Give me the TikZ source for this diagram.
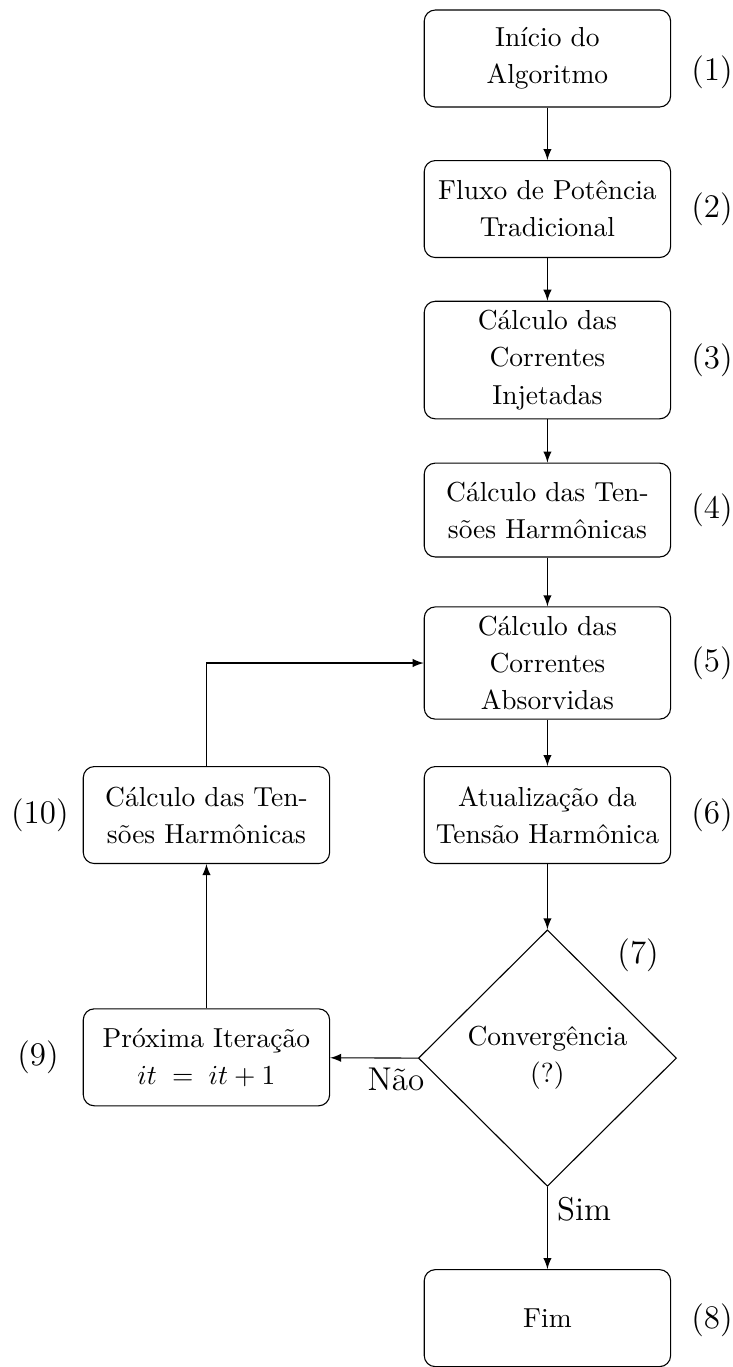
\documentclass[tikz,border=0pt]{standalone}
\usepackage{fontspec}
\usetikzlibrary{shapes.geometric}
\begin{document}
\begin{tikzpicture}[
  passo/.style={draw, rounded corners, align=center, font=\fontsize{10}{13.5}\selectfont, minimum width=3.15cm, minimum height=1.24cm},
  decisao/.style={draw, diamond, aspect=1, minimum width=3.3cm, minimum height=3.28cm, inner sep=0pt, align=center, font=\fontsize{10}{13.5}\selectfont},
  rotulo/.style={font=\large},
  seta/.style={-latex}
]
\useasboundingbox (0,0) rectangle (9.373,-17.48);
% coluna da direita
\node[passo] (inicio) at (7,-0.748) {Início do\\Algoritmo};
\node[passo] (fluxo) at (7,-2.673) {Fluxo de Potência\\Tradicional};
\node[passo] (injetadas) at (7,-4.604) {Cálculo das\\Correntes\\Injetadas};
\node[passo, minimum height=1.2cm] (tensoes) at (7,-6.522) {Cálculo das Ten-\\sões Harmônicas};
\node[passo] (absorvidas) at (7,-8.478) {Cálculo das\\Correntes\\Absorvidas};
\node[passo] (atualiza) at (7,-10.422) {Atualização da\\Tensão Harmônica};
\node[decisao] (conv) at (7,-13.53) {Convergência\\(?)};
\node[passo] (fim) at (7,-16.855) {Fim};
% coluna da esquerda
\node[passo] (proxima) at (2.64,-13.52) {Próxima Iteração\\$it\;=\;it+1$};
\node[passo] (recalc) at (2.64,-10.422) {Cálculo das Ten-\\sões Harmônicas};
% numeros dos passos
\node[rotulo] (n1) at (9.105,-0.93) {(1)};
\node[rotulo] (n2) at (9.105,-2.673) {(2)};
\node[rotulo] (n3) at (9.105,-4.604) {(3)};
\node[rotulo] (n4) at (9.105,-6.522) {(4)};
\node[rotulo] (n5) at (9.105,-8.478) {(5)};
\node[rotulo] (n6) at (9.105,-10.422) {(6)};
\node[rotulo] (n7) at (8.16,-12.21) {(7)};
\node[rotulo] (n8) at (9.105,-16.88) {(8)};
\node[rotulo] (n9) at (0.486,-13.52) {(9)};
\node[rotulo] (n10) at (0.51,-10.422) {(10)};
% setas
\draw[seta] (inicio) -- (fluxo);
\draw[seta] (fluxo) -- (injetadas);
\draw[seta] (injetadas) -- (tensoes);
\draw[seta] (tensoes) -- (absorvidas);
\draw[seta] (absorvidas) -- (atualiza);
\draw[seta] (atualiza) -- (conv);
\draw[seta] (conv.south) -- node[rotulo, pos=0.27, right] {Sim} (fim);
\draw[seta] (conv.west) -- node[rotulo, pos=0.25, below] {Não} (proxima);
\draw[seta] (proxima) -- (recalc);
\draw[seta] (recalc.north) |- (absorvidas.west);
\end{tikzpicture}
\end{document}
